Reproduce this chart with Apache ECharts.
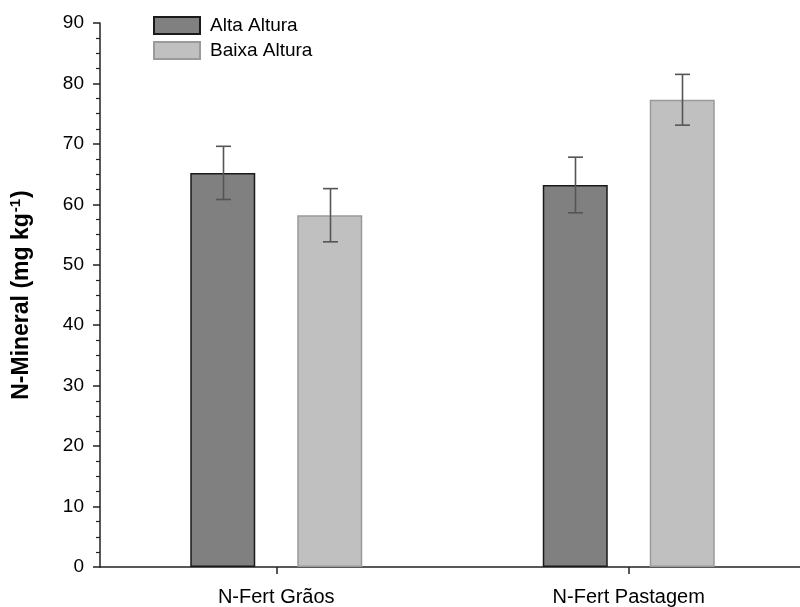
<!DOCTYPE html>
<html>
<head>
<meta charset="utf-8">
<script src="https://cdn.jsdelivr.net/npm/echarts@6/dist/echarts.min.js"></script>
<style>
  html, body { margin: 0; padding: 0; background: #fff; }
  #chart { width: 800px; height: 607px; }
</style>
</head>
<body>
<div id="chart"></div>
<script>
// Treatments on the x axis
const categories = ['N-Fert Grãos', 'N-Fert Pastagem'];

// Mean mineral N (mg kg-1) and error bar half-widths
const altaAltura = [65.2, 63.2];
const altaErro = [4.4, 4.6];
const baixaAltura = [58.2, 77.3];
const baixaErro = [4.4, 4.2];

// Y axis range and ticks
const yMin = 0;
const yMax = 90;
const yStep = 10;

const BAR_WIDTH = 65;
const BAR_GAP_PX = 42;
const CAP_HALF = 7.5;
const FONT = '"Liberation Sans", Arial, Helvetica, sans-serif';

const chart = echarts.init(document.getElementById('chart'), null, { renderer: 'canvas' });

function errorSeries(values, errors, side) {
  const offset = side * (BAR_WIDTH + BAR_GAP_PX) / 2;
  return {
    type: 'custom',
    z: 5,
    silent: true,
    data: values.map((v, i) => [i, v - errors[i], v + errors[i]]),
    renderItem: function (params, api) {
      const lo = api.coord([api.value(0), api.value(1)]);
      const hi = api.coord([api.value(0), api.value(2)]);
      const x = Math.round(lo[0] + offset) + 0.5;
      const style = { stroke: '#555', lineWidth: 1.6 };
      return {
        type: 'group',
        children: [
          { type: 'line', shape: { x1: x, y1: lo[1], x2: x, y2: hi[1] }, style: style },
          { type: 'line', shape: { x1: x - CAP_HALF, y1: hi[1], x2: x + CAP_HALF, y2: hi[1] }, style: style },
          { type: 'line', shape: { x1: x - CAP_HALF, y1: lo[1], x2: x + CAP_HALF, y2: lo[1] }, style: style }
        ]
      };
    }
  };
}

const option = {
  animation: false,
  backgroundColor: '#fff',
  textStyle: { fontFamily: FONT },
  // the x axis runs off the right edge of the page
  grid: { left: 100, width: 705, top: 23, bottom: 40, containLabel: false, outerBoundsMode: 'none' },
  legend: {
    data: ['Alta Altura', 'Baixa Altura'],
    orient: 'vertical',
    left: 153,
    top: 16,
    padding: 0,
    itemWidth: 46,
    itemHeight: 17,
    itemGap: 6,
    icon: 'rect',
    textStyle: { fontFamily: FONT, fontSize: 19, color: '#000', lineHeight: 17, padding: [0, 0, 0, 5] }
  },
  xAxis: {
    type: 'category',
    data: categories,
    axisLine: { show: true, lineStyle: { color: '#222', width: 1.5 } },
    axisTick: { show: true, alignWithLabel: true, length: 7, lineStyle: { color: '#222', width: 1.5 } },
    axisLabel: { fontFamily: FONT, fontSize: 20, color: '#000', margin: 20 },
    splitLine: { show: false }
  },
  yAxis: {
    type: 'value',
    min: yMin,
    max: yMax,
    interval: yStep,
    name: '{t|N-Mineral (mg kg}{s|-1}{t|)}',
    nameLocation: 'middle',
    nameRotate: 90,
    nameGap: 65,
    nameTextStyle: {
      rich: {
        t: { fontFamily: FONT, fontSize: 23, fontWeight: 'bold', color: '#000' },
        s: { fontFamily: FONT, fontSize: 15, fontWeight: 'bold', color: '#000', verticalAlign: 'top', padding: [0, 1, 12, 1] }
      }
    },
    axisLine: { show: true, lineStyle: { color: '#222', width: 1.5 } },
    axisTick: { show: true, length: 7, lineStyle: { color: '#222', width: 1.5 } },
    minorTick: { show: true, splitNumber: 4, length: 4, lineStyle: { color: '#222', width: 1.2 } },
    axisLabel: { fontFamily: FONT, fontSize: 19, color: '#000', margin: 16 },
    splitLine: { show: false },
    minorSplitLine: { show: false }
  },
  series: [
    {
      name: 'Alta Altura',
      type: 'bar',
      data: altaAltura,
      barWidth: BAR_WIDTH,
      barGap: (BAR_GAP_PX / BAR_WIDTH * 100).toFixed(1) + '%',
      itemStyle: { color: '#808080', borderColor: '#1a1a1a', borderWidth: 1.5 }
    },
    {
      name: 'Baixa Altura',
      type: 'bar',
      data: baixaAltura,
      barWidth: BAR_WIDTH,
      itemStyle: { color: '#c0c0c0', borderColor: '#9a9a9a', borderWidth: 1.5 }
    },
    errorSeries(altaAltura, altaErro, -1),
    errorSeries(baixaAltura, baixaErro, 1)
  ]
};

chart.setOption(option);
</script>
</body>
</html>
